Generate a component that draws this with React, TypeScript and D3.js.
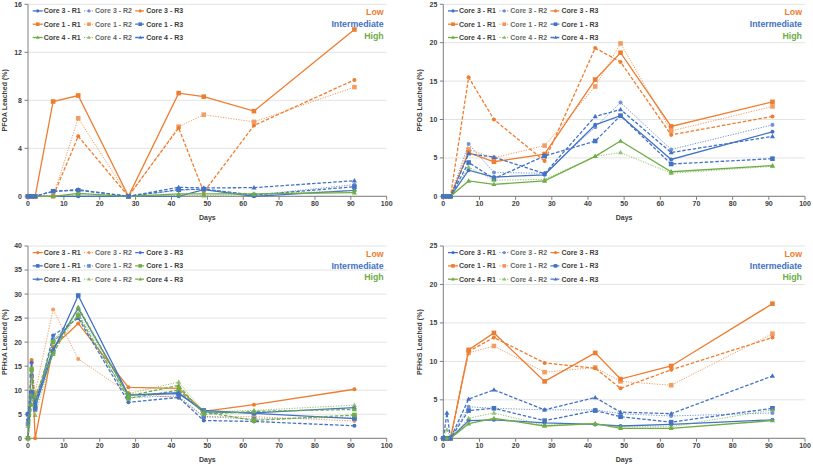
import React from "react";
import * as d3 from "d3";

const DAYS = [0, 1, 2, 7, 14, 28, 42, 49, 63, 91];
const X_TICKS = [0, 10, 20, 30, 40, 50, 60, 70, 80, 90, 100];
const SERIES_NAMES = [
  "Core 3 - R1", "Core 3 - R2", "Core 3 - R3",
  "Core 1 - R1", "Core 1 - R2", "Core 1 - R3",
  "Core 4 - R1", "Core 4 - R2", "Core 4 - R3",
];
const LEVEL_LABELS = ["Low", "Intermediate", "High"];

const ORANGE = "#ED7D31";
const BLUE = "#4472C4";
const GREEN = "#70AD47";

type Style = { color: string; dash: "solid" | "dot" | "dash"; marker: "circle" | "square" | "triangle" };

// Legend scheme used by PFOA, PFOS, PFHxS
const SCHEME_A: Style[] = [
  { color: BLUE, dash: "solid", marker: "circle" },
  { color: BLUE, dash: "dot", marker: "circle" },
  { color: ORANGE, dash: "dash", marker: "circle" },
  { color: ORANGE, dash: "solid", marker: "square" },
  { color: ORANGE, dash: "dot", marker: "square" },
  { color: BLUE, dash: "dash", marker: "square" },
  { color: GREEN, dash: "solid", marker: "triangle" },
  { color: GREEN, dash: "dot", marker: "triangle" },
  { color: BLUE, dash: "dash", marker: "triangle" },
];
// Legend scheme used by PFHxA
const SCHEME_B: Style[] = [
  { color: ORANGE, dash: "solid", marker: "circle" },
  { color: ORANGE, dash: "dot", marker: "circle" },
  { color: BLUE, dash: "dash", marker: "circle" },
  { color: BLUE, dash: "solid", marker: "square" },
  { color: BLUE, dash: "dot", marker: "square" },
  { color: GREEN, dash: "dash", marker: "square" },
  { color: BLUE, dash: "solid", marker: "triangle" },
  { color: GREEN, dash: "dot", marker: "triangle" },
  { color: GREEN, dash: "dash", marker: "triangle" },
];

// PFOA values (order of SERIES_NAMES)
const PFOA: number[][] = [
  [0, 0, 0, 0, 0, 0, 0, 0.55, 0, 0.5],
  [0, 0, 0, 0, 0, 0, 0.5, 0.6, 0.1, 0.97],
  [0, 0, 0, 0, 5.0, 0, 5.7, 0.35, 5.9, 9.7],
  [0, 0, 0, 7.9, 8.4, 0, 8.6, 8.3, 7.1, 13.9],
  [0, 0, 0, 0, 6.5, 0, 5.8, 6.8, 6.2, 9.1],
  [0, 0, 0, 0.42, 0.5, 0, 0.55, 0.6, 0.1, 0.8],
  [0, 0, 0, 0, 0.25, 0, 0.2, 0.2, 0.2, 0.3],
  [0, 0, 0, 0, 0.15, 0, 0.1, 0.05, 0.15, 0.5],
  [0, 0, 0, 0.42, 0.55, 0, 0.75, 0.7, 0.72, 1.3],
];

const PFOS: number[][] = [
  [0, 0, 0, 3.4, 2.5, 2.8, 9.3, 10.5, 4.8, 8.4],
  [0, 0, 0, 6.8, 3.1, 3.0, 9.0, 12.2, 6.1, 9.3],
  [0, 0, 0, 15.5, 10.0, 4.6, 19.3, 17.5, 8.0, 10.4],
  [0, 0, 0, 5.7, 4.5, 5.5, 15.2, 18.7, 9.1, 12.3],
  [0, 0, 0, 6.1, 5.0, 6.6, 14.3, 19.9, 8.5, 11.7],
  [0, 0, 0, 4.4, 2.3, 5.25, 7.2, 10.5, 4.2, 4.9],
  [0, 0, 0, 2.0, 1.56, 2.0, 5.2, 7.2, 3.2, 4.0],
  [0, 0, 0, 3.8, 2.1, 2.2, 5.2, 5.7, 3.0, 3.9],
  [0, 0, 0, 5.55, 5.1, 2.95, 10.4, 11.3, 5.7, 7.8],
];

const PFHXA: number[][] = [
  [0, 16.3, 0, 19.0, 23.9, 10.6, 10.4, 5.6, 7.0, 10.2],
  [0, 15.8, 9.5, 26.8, 16.5, 9.4, 8.4, 4.5, 4.5, 3.6],
  [3.8, 15.7, 6.0, 21.4, 25.0, 7.5, 8.5, 3.7, 3.5, 2.6],
  [5.0, 9.5, 6.5, 18.0, 29.7, 9.0, 9.3, 5.8, 5.2, 4.1],
  [3.0, 13.0, 6.0, 20.5, 25.3, 8.5, 8.8, 4.5, 4.0, 4.4],
  [0, 14.3, 8.0, 20.0, 25.5, 8.3, 10.0, 5.5, 3.7, 4.85],
  [0, 9.7, 7.5, 18.5, 27.0, 9.0, 9.5, 5.5, 5.3, 6.4],
  [2.5, 9.0, 4.8, 17.8, 26.0, 9.3, 11.7, 5.5, 5.8, 6.9],
  [0, 7.0, 8.8, 17.5, 27.3, 8.8, 11.0, 5.0, 5.6, 6.0],
];

const PFHXS: number[][] = [
  [0, 0, 0, 2.3, 2.4, 2.0, 1.8, 1.6, 1.8, 2.4],
  [0, 0, 0, 4.1, 3.9, 3.7, 3.7, 3.2, 2.9, 3.3],
  [0, 0, 0, 11.3, 13.1, 9.8, 9.1, 6.5, 8.9, 13.1],
  [0, 0, 0, 11.5, 13.7, 7.4, 11.1, 7.7, 9.4, 17.5],
  [0, 0, 0, 11.1, 12.0, 8.6, 9.2, 7.4, 6.9, 13.6],
  [0, 0, 0, 3.6, 3.9, 2.3, 3.6, 2.8, 2.1, 3.9],
  [0, 0, 0, 1.9, 2.6, 1.6, 1.9, 1.3, 1.3, 2.3],
  [0, 1.1, 0, 2.6, 3.3, 1.7, 1.9, 1.5, 1.5, 3.7],
  [0, 3.3, 0, 5.1, 6.3, 3.7, 5.3, 3.4, 3.2, 8.1],
];

const FONT = "'Liberation Sans', Arial, sans-serif";

function dashArray(d: Style["dash"]) {
  if (d === "dot") return "1.2,1.4";
  if (d === "dash") return "3.5,1.8";
  return undefined;
}

function Marker({ x, y, s, size }: { x: number; y: number; s: Style; size: number }) {
  if (s.marker === "circle") return <circle cx={x} cy={y} r={size * 0.48} fill={s.color} />;
  if (s.marker === "square")
    return <rect x={x - size / 2} y={y - size / 2} width={size} height={size} fill={s.color} />;
  const h = size * 0.95;
  return (
    <path
      d={`M${x},${y - h * 0.6}L${x + size * 0.55},${y + h * 0.4}L${x - size * 0.55},${y + h * 0.4}Z`}
      fill={s.color}
    />
  );
}

type PanelProps = {
  x0: number; x1: number; top: number; bottom: number;
  yMax: number; yStep: number; yLabel: string;
  values: number[][]; scheme: Style[];
};

function Panel({ x0, x1, top, bottom, yMax, yStep, yLabel, values, scheme }: PanelProps) {
  const x = d3.scaleLinear().domain([0, 100]).range([x0, x1]);
  const y = d3.scaleLinear().domain([0, yMax]).range([bottom, top]);
  const yTicks = d3.range(0, yMax + 0.001, yStep);
  const line = d3.line<number>().x((_, i) => x(DAYS[i])).y((v) => y(v));
  const axisColor = "#7f7f7f";
  const labelColor = "#404040";
  const colX = [x0 + 15.2, x0 + 66.5, x0 + 117.7];
  const rowY = [top + 6.6, top + 19.9, top + 33.2];
  return (
    <g fontFamily={FONT}>
      {yTicks.map((t) => (
        <line key={"g" + t} x1={x0} x2={x1} y1={y(t)} y2={y(t)} stroke="#e3e3e3" strokeWidth={1} />
      ))}
      <line x1={x0} x2={x0} y1={top} y2={bottom} stroke={axisColor} strokeWidth={1} />
      <line x1={x0} x2={x1} y1={bottom} y2={bottom} stroke={axisColor} strokeWidth={1} />
      {yTicks.map((t) => (
        <g key={"y" + t}>
          <line x1={x0 - 3.5} x2={x0} y1={y(t)} y2={y(t)} stroke={axisColor} />
          <text x={x0 - 6} y={y(t)} dy="0.35em" textAnchor="end" fontSize={7} fontWeight={700} fill={labelColor}>
            {t}
          </text>
        </g>
      ))}
      {X_TICKS.map((t) => (
        <g key={"x" + t}>
          <line x1={x(t)} x2={x(t)} y1={bottom} y2={bottom + 3.5} stroke={axisColor} />
          <text x={x(t)} y={bottom + 10} textAnchor="middle" fontSize={7} fontWeight={700} fill={labelColor}>
            {t}
          </text>
        </g>
      ))}
      <text x={(x0 + x1) / 2} y={bottom + 23.5} textAnchor="middle" fontSize={7} fontWeight={700} fill={labelColor}>
        Days
      </text>
      <text
        transform={`translate(${x0 - 21.5},${(top + bottom) / 2}) rotate(-90)`}
        textAnchor="middle"
        fontSize={7}
        fontWeight={700}
        fill={labelColor}
      >
        {yLabel}
      </text>
      {values.map((vals, si) => {
        const s = scheme[si];
        const op = s.dash === "dot" ? 0.75 : 1;
        return (
          <g key={"s" + si} opacity={op}>
            <path
              d={line(vals) || ""}
              fill="none"
              stroke={s.color}
              strokeWidth={s.dash === "dot" ? 1 : 1.3}
              strokeDasharray={dashArray(s.dash)}
            />
            {vals.map((v, i) => (
              <Marker key={i} x={x(DAYS[i])} y={y(v)} s={s} size={s.marker === "circle" ? 4.2 : 4.6} />
            ))}
          </g>
        );
      })}
      {SERIES_NAMES.map((name, i) => {
        const s = scheme[i];
        const cx = colX[i % 3];
        const cy = rowY[Math.floor(i / 3)];
        return (
          <g key={"l" + i} opacity={s.dash === "dot" ? 0.8 : 1}>
            <line
              x1={cx - 10.5}
              x2={cx - 0.5}
              y1={cy}
              y2={cy}
              stroke={s.color}
              strokeWidth={s.dash === "dot" ? 1 : 1.3}
              strokeDasharray={dashArray(s.dash)}
            />
            <Marker x={cx - 5.5} y={cy} s={s} size={s.marker === "circle" ? 3.2 : 3.6} />
            <text x={cx + 0.5} y={cy} dy="0.36em" fontSize={7} fontWeight={700} fill={labelColor}>
              {name}
            </text>
          </g>
        );
      })}
      {LEVEL_LABELS.map((lab, i) => (
        <text
          key={lab}
          x={x1 - 3}
          y={top + 8 + i * 11.7}
          dy="0.35em"
          textAnchor="end"
          fontSize={8.8}
          fontWeight={700}
          fill={[ORANGE, BLUE, GREEN][i]}
        >
          {lab}
        </text>
      ))}
    </g>
  );
}

export default function App() {
  return (
    <svg
      width={813}
      height={465}
      viewBox="0 0 813 465"
      style={{ position: "absolute", left: 0, top: 0, background: "#fff" }}
    >
      <rect width={813} height={465} fill="#fff" />
      <Panel x0={28} x1={386.7} top={4.3} bottom={196.3} yMax={16} yStep={4} yLabel="PFOA Leached (%)" values={PFOA} scheme={SCHEME_A} />
      <Panel x0={443.3} x1={805} top={4.3} bottom={196.3} yMax={25} yStep={5} yLabel="PFOS Leached (%)" values={PFOS} scheme={SCHEME_A} />
      <Panel x0={28} x1={386.7} top={246} bottom={438.3} yMax={40} yStep={5} yLabel="PFHxA Leached (%)" values={PFHXA} scheme={SCHEME_B} />
      <Panel x0={443.3} x1={805} top={246} bottom={438.3} yMax={25} yStep={5} yLabel="PFHxS Leached (%)" values={PFHXS} scheme={SCHEME_A} />
    </svg>
  );
}
